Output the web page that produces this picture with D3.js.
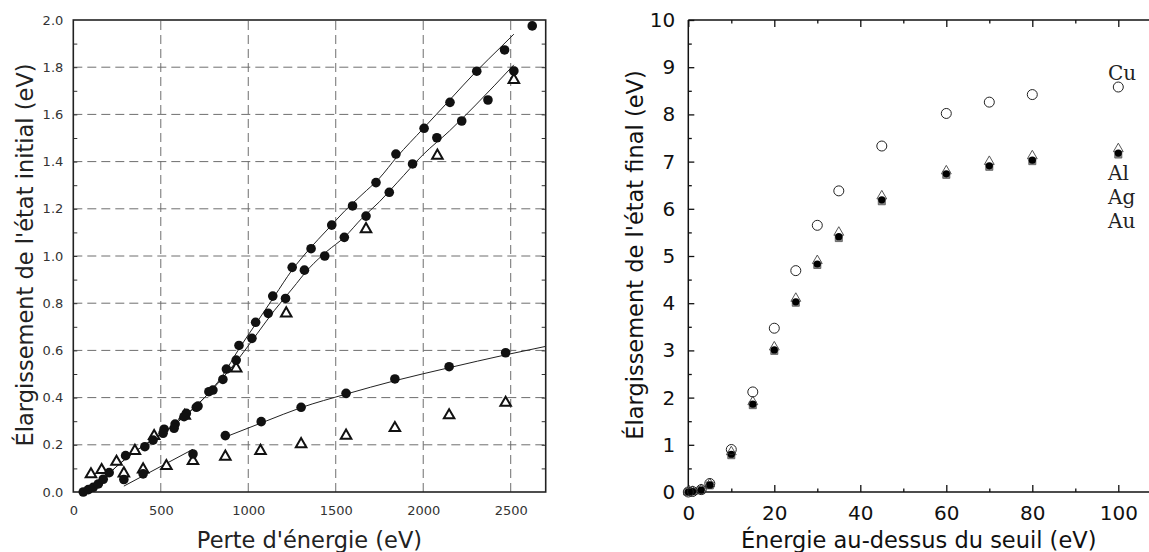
<!DOCTYPE html>
<html><head><meta charset="utf-8">
<script src="https://cdn.jsdelivr.net/npm/d3@7"></script>
<style>body{margin:0;background:#fff} svg{display:block}</style>
</head><body><svg id="c" width="1149" height="552"></svg>
<script>
// ---------- LEFT PANEL DATA (Perte d'énergie eV, élargissement eV) ----------
const leftXTicks = [0, 500, 1000, 1500, 2000, 2500];
const leftYTicks = [0, 0.2, 0.4, 0.6, 0.8, 1.0, 1.2, 1.4, 1.6, 1.8, 2.0];
const upperCircles = [[57,0],[86,0.01],[114,0.02],[143,0.034],[171,0.054],[205,0.082],[299,0.154],[409,0.192],[456,0.22],[519,0.266],[582,0.288],[646,0.333],[703,0.359],[798,0.432],[875,0.521],[947,0.621],[1042,0.719],[1140,0.83],[1251,0.952],[1359,1.031],[1477,1.131],[1596,1.212],[1730,1.311],[1844,1.432],[2005,1.541],[2153,1.651],[2306,1.783],[2465,1.873],[2623,1.975]];
const lowerCircles = [[513,0.249],[576,0.27],[633,0.319],[713,0.364],[775,0.425],[855,0.477],[931,0.559],[1021,0.651],[1114,0.757],[1213,0.82],[1321,0.94],[1437,1.0],[1549,1.079],[1673,1.169],[1806,1.27],[1939,1.39],[2078,1.501],[2220,1.572],[2370,1.661],[2518,1.784]];
const upperTriangles = [[101,0.075],[162,0.093],[247,0.128],[352,0.174],[462,0.237],[637,0.323],[931,0.524],[1217,0.757],[1673,1.114],[2081,1.425],[2518,1.746]];
const bottomCircles = [[289,0.053],[399,0.077],[684,0.161],[869,0.239],[1074,0.298],[1302,0.359],[1559,0.418],[1838,0.479],[2148,0.531],[2471,0.59]];
const bottomTriangles = [[289,0.079],[399,0.096],[532,0.11],[684,0.131],[869,0.15],[1070,0.174],[1302,0.203],[1559,0.239],[1838,0.271],[2148,0.325],[2471,0.378]];
const fitUpper = [[50,0],[150,0.04],[250,0.11],[350,0.17],[450,0.22],[550,0.27],[650,0.33],[750,0.40],[850,0.49],[950,0.61],[1050,0.72],[1150,0.83],[1250,0.94],[1350,1.03],[1450,1.11],[1550,1.19],[1650,1.26],[1750,1.33],[1850,1.42],[2000,1.54],[2150,1.66],[2300,1.78],[2450,1.89],[2518,1.94]];
const fitLower = [[50,0],[150,0.04],[250,0.11],[350,0.17],[450,0.22],[550,0.27],[650,0.33],[750,0.40],[850,0.48],[950,0.57],[1050,0.67],[1150,0.77],[1250,0.86],[1350,0.95],[1450,1.02],[1550,1.08],[1650,1.16],[1750,1.23],[1850,1.31],[2000,1.43],[2150,1.53],[2300,1.64],[2518,1.81]];
const fitBottom1 = [[289,0.025],[684,0.181]];
const fitBottom2 = [[893,0.24],[1100,0.30],[1300,0.357],[1560,0.415],[1840,0.472],[2150,0.527],[2470,0.581],[2700,0.617]];

// ---------- RIGHT PANEL DATA (énergie au-dessus du seuil eV, élargissement eV) ----------
const rightXTicks = [0, 20, 40, 60, 80, 100];
const rightYTicks = [0,1,2,3,4,5,6,7,8,9,10];
const energies = [0, 1, 3, 5, 10, 15, 20, 25, 30, 35, 45, 60, 70, 80, 100];
const cuValues = [0, 0.01, 0.05, 0.18, 0.9, 2.12, 3.47, 4.69, 5.65, 6.38, 7.33, 8.02, 8.26, 8.42, 8.58];
const alValues = [0, 0.01, 0.05, 0.17, 0.85, 1.91, 3.07, 4.1, 4.9, 5.5, 6.27, 6.8, 7.0, 7.12, 7.27];
const agValues = [0, 0.01, 0.04, 0.15, 0.8, 1.86, 3.01, 4.03, 4.83, 5.41, 6.19, 6.74, 6.91, 7.03, 7.18];
const auValues = [0, 0.01, 0.04, 0.14, 0.78, 1.84, 2.99, 4.01, 4.81, 5.38, 6.16, 6.72, 6.89, 7.01, 7.15];
const legendLabels = ["Cu", "Al", "Ag", "Au"];

const svg = d3.select("#c");
const sans = "'DejaVu Sans', sans-serif";
const serif = "'DejaVu Serif', 'Liberation Serif', serif";

// ===== LEFT PANEL =====
const xL = d3.scaleLinear().domain([0, 2700]).range([73.3, 545.7]);
const yL = d3.scaleLinear().domain([0, 2]).range([492, 20]);
const L = svg.append("g");

// gridlines
L.append("g").selectAll("line").data(leftYTicks.filter(d => d > 0 && d < 2)).join("line")
  .attr("x1", xL.range()[0]).attr("x2", xL.range()[1])
  .attr("y1", d => yL(d)).attr("y2", d => yL(d))
  .attr("stroke", "#6e6e6e").attr("stroke-width", 1).attr("stroke-dasharray", "9,5");
L.append("g").selectAll("line").data(leftXTicks.filter(d => d > 0)).join("line")
  .attr("x1", d => xL(d)).attr("x2", d => xL(d))
  .attr("y1", yL.range()[0]).attr("y2", yL.range()[1])
  .attr("stroke", "#6e6e6e").attr("stroke-width", 1).attr("stroke-dasharray", "9,5");

// minor ticks (inward) left and right
const minorL = d3.range(1, 20).map(i => i / 10);
L.append("g").attr("transform", `translate(${xL.range()[0]},0)`)
  .call(d3.axisRight(yL).tickValues(minorL).tickSize(4).tickFormat(""))
  .call(g => g.select(".domain").remove())
  .call(g => g.selectAll("line").attr("stroke", "#333"));
L.append("g").attr("transform", `translate(${xL.range()[1]},0)`)
  .call(d3.axisLeft(yL).tickValues(minorL).tickSize(4).tickFormat(""))
  .call(g => g.select(".domain").remove())
  .call(g => g.selectAll("line").attr("stroke", "#333"));

// tick labels
L.append("g").attr("transform", `translate(${xL.range()[0]},0)`)
  .call(d3.axisLeft(yL).tickValues(leftYTicks).tickSize(0).tickPadding(10).tickFormat(d3.format(".1f")))
  .call(g => g.select(".domain").remove())
  .call(g => g.selectAll("text").attr("font-family", sans).attr("font-size", 13).attr("fill", "#333"));
L.append("g").attr("transform", `translate(0,${yL.range()[0]})`)
  .call(d3.axisBottom(xL).tickValues(leftXTicks).tickSize(0).tickPadding(13.5).tickFormat(d3.format("d")))
  .call(g => g.select(".domain").remove())
  .call(g => g.selectAll("text").attr("font-family", sans).attr("font-size", 13).attr("fill", "#333"));

// frame
L.append("rect").attr("x", xL.range()[0]).attr("y", yL.range()[1])
  .attr("width", xL.range()[1] - xL.range()[0]).attr("height", yL.range()[0] - yL.range()[1])
  .attr("fill", "none").attr("stroke", "#222").attr("stroke-width", 1.6);

// fit lines
const lineL = d3.line().x(d => xL(d[0])).y(d => yL(d[1])).curve(d3.curveMonotoneX);
svg.append("clipPath").attr("id", "clipL").append("rect")
  .attr("x", xL.range()[0]).attr("y", yL.range()[1])
  .attr("width", xL.range()[1] - xL.range()[0]).attr("height", yL.range()[0] - yL.range()[1]);
const fits = L.append("g").attr("clip-path", "url(#clipL)");
[fitUpper, fitLower, fitBottom1, fitBottom2].forEach(f => {
  fits.append("path").attr("d", lineL(f)).attr("fill", "none").attr("stroke", "#222").attr("stroke-width", 1);
});

// markers
const tri = d3.symbol().type(d3.symbolTriangle).size(48);
[upperTriangles, bottomTriangles].forEach(s => {
  L.append("g").selectAll("path").data(s).join("path")
    .attr("d", tri).attr("transform", d => `translate(${xL(d[0])},${yL(d[1])})`)
    .attr("fill", "#fff").attr("stroke", "#111").attr("stroke-width", 2);
});
[upperCircles, lowerCircles, bottomCircles].forEach(s => {
  L.append("g").selectAll("circle").data(s).join("circle")
    .attr("cx", d => xL(d[0])).attr("cy", d => yL(d[1])).attr("r", 4.8).attr("fill", "#111");
});

// axis titles
L.append("text").attr("x", (xL.range()[0] + xL.range()[1]) / 2).attr("y", 548)
  .attr("text-anchor", "middle").attr("font-family", sans).attr("font-size", 22.5).attr("fill", "#222")
  .text("Perte d'énergie (eV)");
L.append("text").attr("transform", `translate(33,255) rotate(-90)`)
  .attr("text-anchor", "middle").attr("font-family", sans).attr("font-size", 22.5).attr("fill", "#222")
  .text("Élargissement de l'état initial (eV)");

// ===== RIGHT PANEL =====
const xR = d3.scaleLinear().domain([0, 107]).range([688.3, 1148.4]);
const yR = d3.scaleLinear().domain([0, 10]).range([492, 20]);
const R = svg.append("g");

// axes lines
R.append("line").attr("x1", xR(0)).attr("x2", xR(0)).attr("y1", yR(0)).attr("y2", yR(10)).attr("stroke", "#111").attr("stroke-width", 1.5);
R.append("line").attr("x1", xR(0)).attr("x2", 1149).attr("y1", yR(0)).attr("y2", yR(0)).attr("stroke", "#111").attr("stroke-width", 1.5);
R.append("line").attr("x1", xR(0)).attr("x2", 1149).attr("y1", yR(10)).attr("y2", yR(10)).attr("stroke", "#111").attr("stroke-width", 1.5);

// ticks: y inward
const yMinorR = d3.range(0, 10.01, 0.5).filter(d => d % 1 !== 0);
R.append("g").attr("transform", `translate(${xR(0)},0)`)
  .call(d3.axisRight(yR).tickValues(rightYTicks).tickSize(6).tickFormat(""))
  .call(g => g.select(".domain").remove())
  .call(g => g.selectAll("line").attr("stroke", "#111").attr("stroke-width", 1.3));
R.append("g").attr("transform", `translate(${xR(0)},0)`)
  .call(d3.axisRight(yR).tickValues(yMinorR).tickSize(3.5).tickFormat(""))
  .call(g => g.select(".domain").remove())
  .call(g => g.selectAll("line").attr("stroke", "#111").attr("stroke-width", 1.3));
// x ticks top and bottom inward
const xMinorR = [10, 30, 50, 70, 90];
[[yR(0), d3.axisTop], [yR(10), d3.axisBottom]].forEach(([yy, ax]) => {
  R.append("g").attr("transform", `translate(0,${yy})`)
    .call(ax(xR).tickValues(rightXTicks).tickSize(7).tickFormat(""))
    .call(g => g.select(".domain").remove())
    .call(g => g.selectAll("line").attr("stroke", "#111").attr("stroke-width", 1.3));
  R.append("g").attr("transform", `translate(0,${yy})`)
    .call(ax(xR).tickValues(xMinorR).tickSize(3.5).tickFormat(""))
    .call(g => g.select(".domain").remove())
    .call(g => g.selectAll("line").attr("stroke", "#111").attr("stroke-width", 1.3));
});

// tick labels
R.append("g").attr("transform", `translate(${xR(0)},0)`)
  .call(d3.axisLeft(yR).tickValues(rightYTicks).tickSize(0).tickPadding(13).tickFormat(d3.format("d")))
  .call(g => g.select(".domain").remove())
  .call(g => g.selectAll("text").attr("font-family", sans).attr("font-size", 20).attr("fill", "#111"));
R.append("g").attr("transform", `translate(0,${yR(0)})`)
  .call(d3.axisBottom(xR).tickValues(rightXTicks).tickSize(0).tickPadding(13.5).tickFormat(d3.format("d")))
  .call(g => g.select(".domain").remove())
  .call(g => g.selectAll("text").attr("font-family", sans).attr("font-size", 20).attr("fill", "#111"));

// markers
const sq = d3.symbol().type(d3.symbolSquare).size(50);
const triR = d3.symbol().type(d3.symbolTriangle).size(42);
R.append("g").selectAll("path").data(energies.map((e, i) => [e, auValues[i]])).join("path")
  .attr("d", sq).attr("transform", d => `translate(${xR(d[0])},${yR(d[1])})`)
  .attr("fill", "#8a8a8a").attr("stroke", "#555").attr("stroke-width", 0.8);
R.append("g").selectAll("path").data(energies.map((e, i) => [e, alValues[i]])).join("path")
  .attr("d", triR).attr("transform", d => `translate(${xR(d[0])},${yR(d[1])})`)
  .attr("fill", "#fff").attr("fill-opacity", 0.6).attr("stroke", "#555").attr("stroke-width", 1);
R.append("g").selectAll("circle").data(energies.map((e, i) => [e, agValues[i]])).join("circle")
  .attr("cx", d => xR(d[0])).attr("cy", d => yR(d[1])).attr("r", 3.6).attr("fill", "#000");
R.append("g").selectAll("circle").data(energies.map((e, i) => [e, cuValues[i]])).join("circle")
  .attr("cx", d => xR(d[0])).attr("cy", d => yR(d[1])).attr("r", 5).attr("fill", "none")
  .attr("stroke", "#222").attr("stroke-width", 1);

// legend labels (serif)
const legendY = [80, 180, 204, 228];
R.append("g").selectAll("text").data(legendLabels).join("text")
  .attr("x", 1108).attr("y", (d, i) => legendY[i])
  .attr("font-family", serif).attr("font-size", 20).attr("fill", "#222").text(d => d);

// axis titles
R.append("text").attr("x", (xR(0) + 1149) / 2).attr("y", 548)
  .attr("text-anchor", "middle").attr("font-family", sans).attr("font-size", 22.5).attr("fill", "#111")
  .text("Énergie au-dessus du seuil (eV)");
R.append("text").attr("transform", `translate(643,255) rotate(-90)`)
  .attr("text-anchor", "middle").attr("font-family", sans).attr("font-size", 22.5).attr("fill", "#111")
  .text("Élargissement de l'état final (eV)");
</script></body></html>
